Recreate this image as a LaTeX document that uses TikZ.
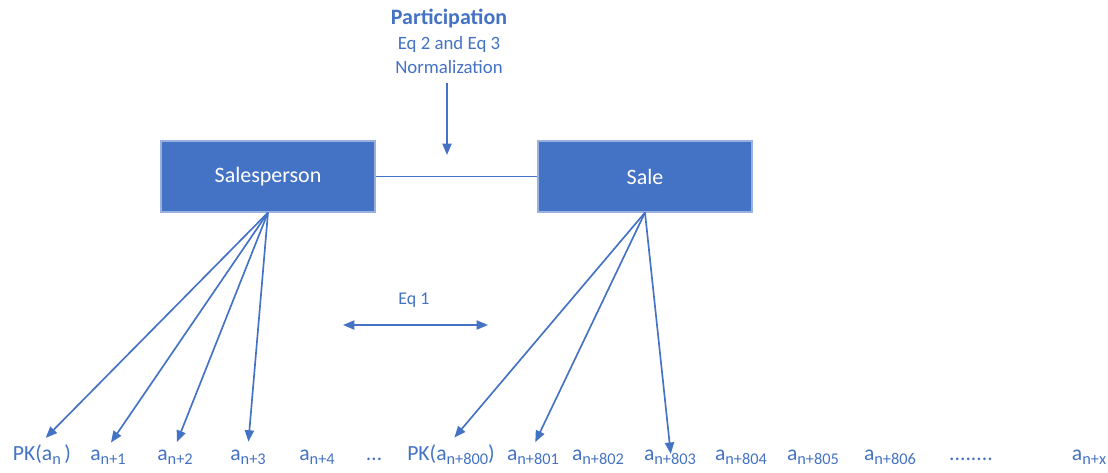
\documentclass[tikz,border=0pt]{standalone}
\usepackage{fontspec}
\setmainfont{Carlito}
\usetikzlibrary{arrows.meta}
\definecolor{offblue}{HTML}{4472C4}
\newcommand{\an}[1]{a\raisebox{-2.5pt}{\fontsize{9.3}{10}\selectfont #1}}

\begin{document}
\begin{tikzpicture}[x=0.2cm,y=-0.2cm,line width=0.95pt,
  >={Triangle[length=6.5pt,width=5.2pt]},
  every node/.style={text=offblue},
  entity/.style={rectangle,fill=offblue,draw=offblue!55,line width=0.6pt,
    minimum width=4.28cm,minimum height=1.42cm,text=white,
    font=\fontsize{12.5}{15}\selectfont},
  elem/.style={anchor=base,inner sep=1pt,font=\fontsize{12.3}{14}\selectfont}]
\useasboundingbox (0,0) rectangle (110.8,47.2);

\path (44.9,1.8) node[font=\bfseries\fontsize{12.5}{15}\selectfont] (part) {Participation};
\path (44.9,4.4) node[font=\fontsize{10.7}{13}\selectfont] (eqs) {Eq 2 and Eq 3};
\path (44.9,6.7) node[font=\fontsize{10.7}{13}\selectfont] (norm) {Normalization};
\coordinate (top) at (44.7,8.3);
\coordinate (mid) at (44.7,15.5);
\draw[draw=offblue,->] (top) -- (mid);

\path (26.8,17.65) node[entity] (sp) {Salesperson};
\path (64.5,17.65) node[entity] (sale) {Sale};
\draw[draw=offblue] (sp) -- (sale);

\path (41.4,30.0) node[font=\fontsize{10.2}{12}\selectfont] (eq1) {Eq 1};
\coordinate (e1l) at (34.3,32.5);
\coordinate (e1r) at (48.8,32.5);
\draw[draw=offblue,<->] (e1l) -- (e1r);

% elements
\path (4.2,46.0) node[elem] (pk0) {PK(\an{n}\,)};
\path (10.8,46.0) node[elem] (n1) {\an{n+1}};
\path (17.5,46.0) node[elem] (n2) {\an{n+2}};
\path (24.8,46.0) node[elem] (n3) {\an{n+3}};
\path (31.7,46.0) node[elem] (n4) {\an{n+4}};
\path (37.4,46.0) node[elem] (dots) {\dots};
\path (45.1,46.0) node[elem] (pk800) {PK(\an{n+800})};
\path (53.3,46.0) node[elem] (n801) {\an{n+801}};
\path (59.8,46.0) node[elem] (n802) {\an{n+802}};
\path (67.0,46.0) node[elem] (n803) {\an{n+803}};
\path (74.1,46.0) node[elem] (n804) {\an{n+804}};
\path (81.3,46.0) node[elem] (n805) {\an{n+805}};
\path (89.0,46.0) node[elem] (n806) {\an{n+806}};
\path (97.1,46.0) node[elem] (ddots) {........};
\path (108.9,46.0) node[elem] (nx) {\an{n+x}};

\draw[draw=offblue,->,shorten >=3pt] (sp.south) -- (pk0.north);
\draw[draw=offblue,->,shorten >=3pt] (sp.south) -- (n1.north);
\draw[draw=offblue,->,shorten >=3pt] (sp.south) -- (n2.north);
\draw[draw=offblue,->,shorten >=3pt] (sp.south) -- (n3.north);

\draw[draw=offblue,->,shorten >=3pt] (sale.south) -- (pk800.north);
\draw[draw=offblue,->,shorten >=3pt] (sale.south) -- (n801.north);
\draw[draw=offblue,->,shorten >=-4pt] (sale.south) -- (n803.north);
\end{tikzpicture}
\end{document}
